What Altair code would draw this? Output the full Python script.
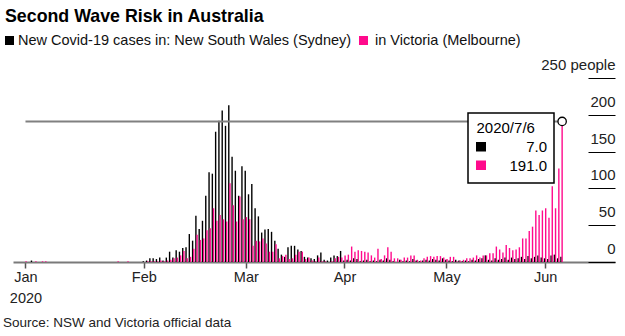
import json
import altair as alt
import pandas as pd

# ---------------- data ----------------
START, END = "2020-01-25", "2020-07-06"

NSW_JAN = [0, 0, 2, 0, 0, 0, 0]
VIC_JAN = [1, 0, 0, 1, 0, 1, 1]
NSW_FEB = [0] * 29
VIC_FEB = [0, 0, 0, 0, 0, 0, 0, 0, 0, 0, 0, 0, 0, 0, 0, 0, 0, 0, 0, 0,
           0, 1, 0, 0, 1, 0, 0, 0, 0]
NSW_MAR = [1, 2, 5, 5, 4, 6, 2, 6, 14, 6, 16, 14, 19, 20, 38, 29, 63, 45, 56, 90,
           122, 120, 177, 192, 206, 185, 213, 143, 124, 90, 130]
VIC_MAR = [0, 1, 1, 1, 1, 2, 1, 2, 3, 5, 6, 9, 15, 5, 7, 18, 37, 30, 32, 43,
           46, 73, 56, 64, 58, 55, 107, 77, 55, 89, 58]
NSW_APR = [124, 92, 106, 73, 62, 40, 44, 45, 41, 29, 18, 10, 7, 20, 22, 22, 17, 15, 7, 6,
           5, 4, 9, 13, 3, 2, 6, 9, 8, 15]
VIC_APR = [61, 58, 22, 29, 28, 32, 25, 14, 14, 24, 5, 8, 10, 4, 5, 10, 14, 14, 4, 6,
           2, 1, 6, 1, 1, 0, 1, 5, 7, 6]
NSW_MAY = [2, 3, 2, 5, 4, 1, 2, 3, 1, 2, 1, 3, 2, 5, 3, 1, 0, 3, 1, 2,
           1, 4, 2, 1, 2, 3, 2, 4, 3, 2, 5]
VIC_MAY = [9, 10, 21, 14, 16, 15, 14, 13, 9, 6, 18, 4, 9, 20, 14, 5, 5, 3, 6, 6,
           9, 9, 3, 2, 5, 7, 8, 7, 8, 8, 6]
NSW_JUN = [3, 2, 1, 3, 2, 1, 2, 1, 3, 2, 4, 5, 9, 3, 2, 5, 3, 4, 6, 3,
           6, 4, 5, 7, 4, 8, 5, 7, 9, 6]
VIC_JUN = [4, 7, 7, 1, 2, 3, 5, 5, 6, 9, 6, 9, 9, 12, 12, 21, 17, 13, 23, 19,
           16, 17, 20, 32, 32, 42, 48, 70, 64, 70]
NSW_JUL = [5, 4, 9, 10, 5, 7]
VIC_JUL = [73, 60, 103, 73, 127, 191]

SERIES = ["New Covid-19 cases in: New South Wales (Sydney)", "in Victoria (Melbourne)"]
Y_TICKS = [0, 50, 100, 150, 200, 250]
TICK_DATES = ["2020-01-25", "2020-03-01", "2020-04-01", "2020-05-01", "2020-06-01", "2020-07-01"]
TICK_LABELS = [["Jan", "2020"], "Feb", "Mar", "Apr", "May", "Jun"]
TITLE = "Second Wave Risk in Australia"
SOURCE = "Source: NSW and Victoria official data"

# ---------------- build tables ----------------
dates = pd.date_range(START, END, freq="D")
nsw = NSW_JAN + NSW_FEB + NSW_MAR + NSW_APR + NSW_MAY + NSW_JUN + NSW_JUL
vic = VIC_JAN + VIC_FEB + VIC_MAR + VIC_APR + VIC_MAY + VIC_JUN + VIC_JUL
assert len(dates) == len(nsw) == len(vic)

DAY = 86400000


def ms(d):
    return int(pd.Timestamp(d).value // 10**6)


rows = []
for d, n, v in zip(dates, nsw, vic):
    rows.append({"t": ms(d) - 0.18 * DAY, "value": n, "series": "NSW"})
    rows.append({"t": ms(d) + 0.18 * DAY, "value": v, "series": "VIC"})
bars_df = pd.DataFrame(rows)

last_vic_t = ms(dates[-1]) + 0.18 * DAY
hover_df = pd.DataFrame({"t0": [ms(dates[0])], "t1": [last_vic_t], "v": [vic[-1]]})

FONT = "Liberation Sans"
PINK = "#ff0a8c"
BLACK = "#000000"

x_dom = [ms("2020-03-01") - 38.274 * DAY, ms("2020-07-01") + 19.735 * DAY]
XS = alt.Scale(type="utc", domain=x_dom)
YS = alt.Scale(domain=[0, 250], nice=False)

tick_ms = [ms(d) for d in TICK_DATES]
by_month = [""] * 12
for d, lab in zip(TICK_DATES, TICK_LABELS):
    by_month[pd.Timestamp(d).month - 1] = lab
label_expr = json.dumps(by_month) + "[utcmonth(datum.value)]"

XAXIS = alt.Axis(values=tick_ms, labelExpr=label_expr, title=None, grid=False,
                 domainColor="#7a7a7a", domainWidth=2, tickColor="#555555", tickWidth=1.5,
                 tickSize=6, labelFontSize=14.5, labelColor="#222222", labelPadding=2,
                 labelLineHeight=21, labelFlush=False, labelOverlap=False, labelFont=FONT)
YAXIS = alt.Axis(orient="right", offset=-27, tickSize=27, values=Y_TICKS, domain=False,
                 grid=False, title=None, labelAlign="right", labelPadding=0,
                 labelBaseline="middle", labelOffset=-13.5,
                 labelExpr="datum.value == 250 ? '250 people' : datum.label",
                 labelFontSize=15, labelColor="#222222", tickColor="#000000", tickWidth=1,
                 labelFlush=False, labelOverlap=False, labelFont=FONT)

bars = alt.Chart(bars_df).mark_bar(size=1.4).encode(
    x=alt.X("t:T", scale=XS, axis=XAXIS),
    y=alt.Y("value:Q", scale=YS, axis=YAXIS),
    color=alt.Color("series:N", scale=alt.Scale(domain=["NSW", "VIC"], range=[BLACK, PINK]), legend=None),
)

rule = alt.Chart(hover_df).mark_rule(color="#808080", strokeWidth=2).encode(
    x=alt.X("t0:T", scale=XS, axis=XAXIS), x2="t1:T",
    y=alt.Y("v:Q", scale=YS, axis=YAXIS),
)

dot = alt.Chart(hover_df).mark_point(shape="circle", fill="white", stroke="#000000",
                                     strokeWidth=1.3, size=70, opacity=1, fillOpacity=1).encode(
    x=alt.X("t1:T", scale=XS, axis=XAXIS),
    y=alt.Y("v:Q", scale=YS, axis=YAXIS),
)


def box(x, x2, y, y2, fill, stroke=None, sw=0):
    kw = {"fill": fill}
    if stroke:
        kw.update(stroke=stroke, strokeWidth=sw)
    return alt.Chart(pd.DataFrame({"k": [0]})).mark_rect(**kw).encode(
        x=alt.value(x), x2=alt.value(x2), y=alt.value(y), y2=alt.value(y2))


def txt(s, x, y, size, color="#000000", weight="normal", align="left"):
    return alt.Chart(pd.DataFrame({"s": [s]})).mark_text(
        align=align, baseline="middle", fontSize=size, font=FONT, fontWeight=weight,
        color=color).encode(x=alt.value(x), y=alt.value(y), text="s:N")


last = dates[-1]
tip_date = f"{last.year}/{last.month}/{last.day}"

layers = [
    bars, rule,
    box(455, 541, 35, 105, "white", "#000000", 1.5),
    txt(tip_date, 463.5, 50, 15),
    box(463, 473, 64, 73.5, BLACK),
    txt(f"{nsw[-1]:.1f}", 534, 69, 15, align="right"),
    box(463, 473, 82.5, 92, PINK),
    txt(f"{vic[-1]:.1f}", 534, 87.5, 15, align="right"),
    dot,
    txt(TITLE, -8, -61, 17.8, weight="bold"),
    box(-8, 1, -42, -33, BLACK),
    txt(SERIES[0], 5, -37, 14.5, color="#111111"),
    box(346, 355, -42, -33, PINK),
    txt(SERIES[1], 362, -37, 14.5, color="#111111"),
    txt(SOURCE, -10, 245, 13.5, color="#222222"),
]

chart = alt.layer(*layers).properties(
    width=602, height=184,
    padding={"left": 13, "top": 78, "right": 10, "bottom": 74},
    autosize=alt.AutoSizeParams(type="none"),
    background="white",
).configure_view(stroke=None)

chart.save("out.html", embed_options={"renderer": "svg", "actions": False})
